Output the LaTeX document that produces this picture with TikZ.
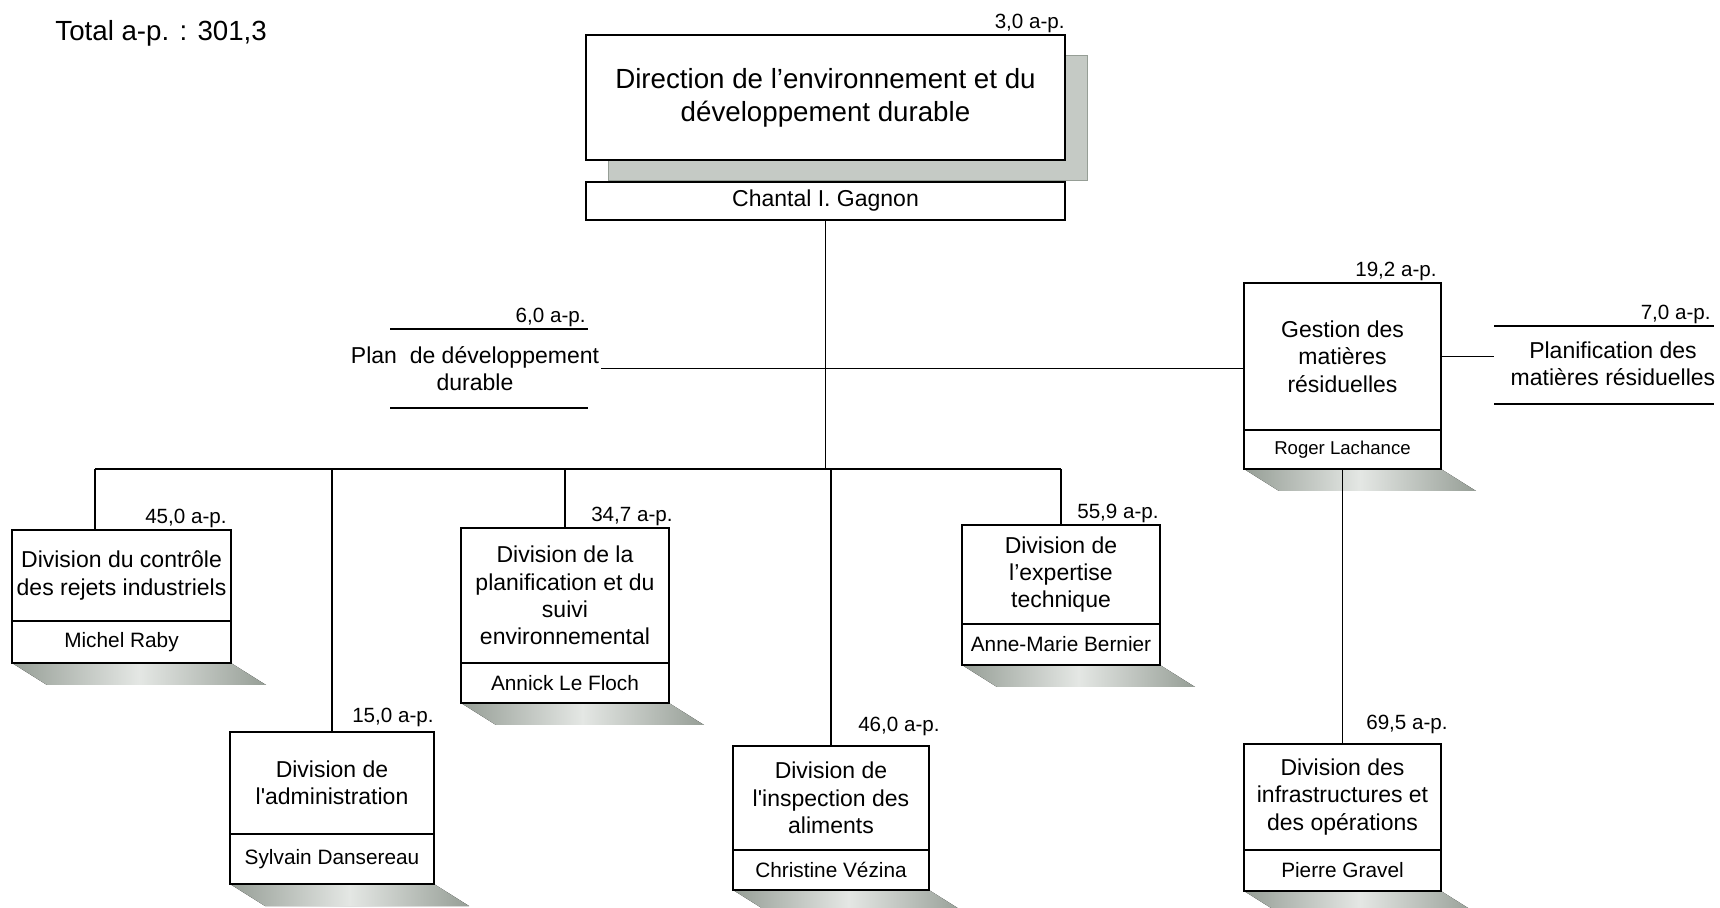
\documentclass[tikz,border=0pt]{standalone}
\usepackage{fontspec}
\setmainfont{Liberation Sans}
\usetikzlibrary{positioning,calc,backgrounds}

\definecolor{ombre}{RGB}{150,158,150}
\definecolor{ombreclair}{RGB}{228,231,228}

\newcommand{\grandtxt}{\fontsize{13.85}{16.5}\selectfont}
\newcommand{\corpstxt}{\fontsize{11.5}{13.7}\selectfont}
\newcommand{\nomtxt}{\fontsize{10.4}{12.5}\selectfont}
\newcommand{\aptxt}{\fontsize{10.3}{12}\selectfont}

\tikzset{
  unite/.style={draw, line width=0.9pt, fill=white, align=center, font=\corpstxt, inner sep=1pt, outer sep=0pt},
  nom/.style={unite, font=\nomtxt},
  ap/.style={anchor=south east, font=\aptxt, inner sep=1pt},
  cadre/.style={inner sep=0pt, outer sep=0pt},
  lien/.style={line width=0.75pt},
  ombrage/.style={left color=ombre, right color=ombre, middle color=ombreclair},
}

\begin{document}
\begin{tikzpicture}[x=0.5pt, y=-0.5pt]
  \useasboundingbox (0,0) rectangle (1720,908);

  \node[anchor=west, font=\grandtxt, inner sep=0pt] (total) at (55,33) {Total a-p. : 301,3};

  % direction
  \node[unite, font=\grandtxt, minimum width=239.5pt, minimum height=62.5pt] (direction) at (825.5,97.5)
    {Direction de l’environnement et du\\développement durable};
  \node[unite, minimum width=239.5pt, minimum height=19pt] (chantal) at (825.5,201) {Chantal I. Gagnon};
  \node[ap, xshift=1pt] (direction-ap) at (direction.north east) {3,0 a-p.};

  % plan de developpement durable
  \node[cadre, minimum width=99pt, minimum height=39.5pt] (plan-cadre) at (489,368.5) {};
  \node[align=center, font=\corpstxt, inner sep=1pt] (plan) at (475,368.5) {Plan\ \ de développement\\durable};
  \node[ap] (plan-ap) at (plan-cadre.north east) {6,0 a-p.};

  % gestion des matieres residuelles
  \node[unite, minimum width=98.5pt, minimum height=73.5pt] (gestion) at (1342.5,356.5)
    {Gestion des\\matières\\résiduelles};
  \node[nom, font=\fontsize{9.3}{11}\selectfont, minimum width=98.5pt, minimum height=19.5pt, below=0pt of gestion] (gestion-nom) {Roger Lachance};
  \node[ap, xshift=-1pt] (gestion-ap) at (gestion.north east) {19,2 a-p.};

  \node[cadre, minimum width=110pt, minimum height=39pt] (pmr-cadre) at (1604,365) {};
  \node[align=center, font=\corpstxt, inner sep=1pt] (pmr) at (1613,364) {Planification des\\matières résiduelles};
  \node[ap, xshift=-0.5pt] (pmr-ap) at (pmr-cadre.north east) {7,0 a-p.};

  % divisions
  \node[unite, minimum width=109.5pt, minimum height=45.5pt] (ctrl) at (121.5,575.5)
    {Division du contrôle\\des rejets industriels};
  \node[nom, minimum width=109.5pt, minimum height=21pt, below=0pt of ctrl] (ctrl-nom) {Michel Raby};
  \node[ap, xshift=-1pt] (ctrl-ap) at (ctrl.north east) {45,0 a-p.};

  \node[unite, minimum width=102pt, minimum height=51pt] (admin) at (332,783)
    {Division de\\l\textquotesingle administration};
  \node[nom, minimum width=102pt, minimum height=25pt, below=0pt of admin] (admin-nom) {Sylvain Dansereau};
  \node[ap, xshift=1pt, yshift=1.5pt] (admin-ap) at (admin.north east) {15,0 a-p.};

  \node[unite, minimum width=104pt, minimum height=67.5pt] (planif) at (565,595.5)
    {Division de la\\planification et du\\suivi\\environnemental};
  \node[nom, minimum width=104pt, minimum height=20pt, below=0pt of planif] (planif-nom) {Annick Le Floch};
  \node[ap, xshift=3pt] (planif-ap) at (planif.north east) {34,7 a-p.};

  \node[unite, minimum width=98pt, minimum height=52pt] (insp) at (831,798)
    {Division de\\l\textquotesingle inspection des\\aliments};
  \node[nom, minimum width=98pt, minimum height=20pt, below=0pt of insp] (insp-nom) {Christine Vézina};
  \node[ap, xshift=6.5pt, yshift=4pt] (insp-ap) at (insp.north east) {46,0 a-p.};

  \node[unite, minimum width=99pt, minimum height=49.5pt] (expert) at (1061,574.5)
    {Division de\\l’expertise\\technique};
  \node[nom, minimum width=99pt, minimum height=20.5pt, below=0pt of expert] (expert-nom) {Anne-Marie Bernier};
  \node[ap, xshift=0.5pt] (expert-ap) at (expert.north east) {55,9 a-p.};

  \node[unite, minimum width=98.5pt, minimum height=53pt] (infra) at (1342.5,797)
    {Division des\\infrastructures et\\des opérations};
  \node[nom, minimum width=98.5pt, minimum height=20.5pt, below=0pt of infra] (infra-nom) {Pierre Gravel};
  \node[ap, xshift=4.5pt, yshift=4pt] (infra-ap) at (infra.north east) {69,5 a-p.};

  % ombres
  \begin{scope}[on background layer]
    \fill[ombre!55, draw=ombre, line width=0.4pt] ($(direction.north west)+(22,20)$) rectangle ($(direction.south east)+(22,20)$);
    \foreach \b in {ctrl-nom,admin-nom,planif-nom,insp-nom,expert-nom,gestion-nom,infra-nom}
      \fill[ombrage] (\b.south west) -- (\b.south east) -- ++(35,22) -- ($(\b.south west)+(35,22)$) -- cycle;
  \end{scope}

  % liens
  \draw[lien] (plan-cadre.north west) -- (plan-cadre.north east);
  \draw[lien] (plan-cadre.south west) -- (plan-cadre.south east);
  \draw[lien] (pmr-cadre.north west) -- (pmr-cadre.north east);
  \draw[lien] (pmr-cadre.south west) -- (pmr-cadre.south east);

  \coordinate (bus-g) at (95,469);
  \coordinate (bus-d) at (1061,469);
  \draw[lien] (chantal.south) -- (chantal.south |- bus-g);
  \draw[lien] (plan.east) -- (plan.east -| gestion.west);
  \draw[lien] (gestion.east) -- (gestion.east -| pmr-cadre.west);
  \draw[lien] (bus-g) -- (bus-d);
  \draw[lien] (bus-g) -- (bus-g |- ctrl.north);
  \draw[lien] (admin.north |- bus-g) -- (admin.north);
  \draw[lien] (planif.north |- bus-g) -- (planif.north);
  \draw[lien] (insp.north |- bus-g) -- (insp.north);
  \draw[lien] (bus-d) -- (expert.north);
  \draw[lien] (gestion-nom.south) -- (infra.north);

\end{tikzpicture}
\end{document}
